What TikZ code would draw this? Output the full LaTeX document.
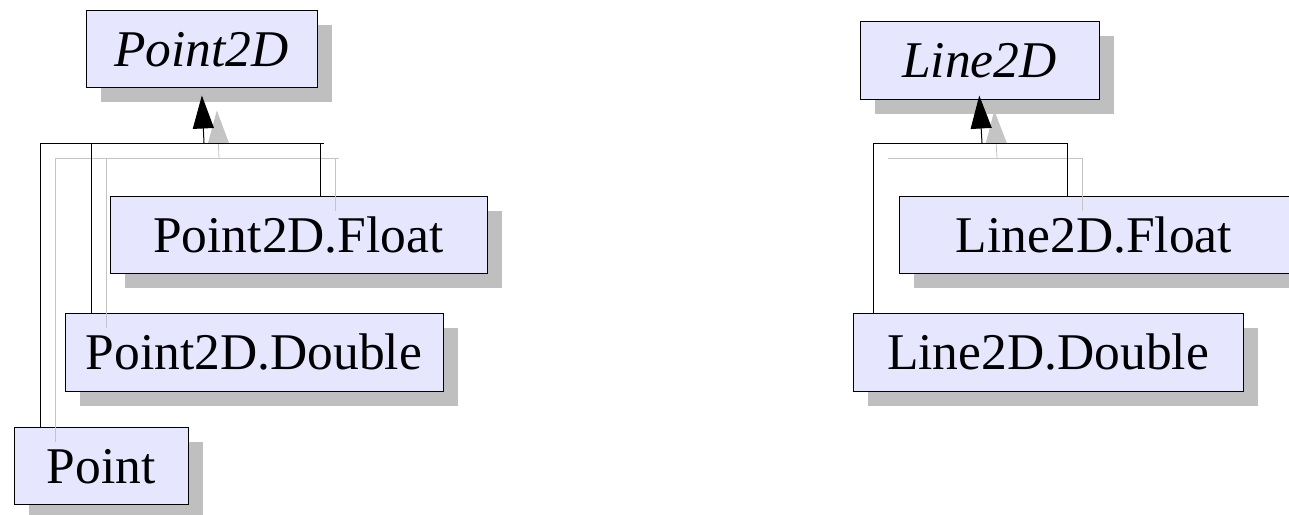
\documentclass[tikz,border=0pt]{standalone}
\usepackage{fontspec}
\setmainfont{Liberation Serif}
\usetikzlibrary{arrows.meta,shadows}
\definecolor{boxfill}{HTML}{E6E6FF}
\definecolor{shadowgray}{HTML}{BFBFBF}
\definecolor{lineshadow}{HTML}{C4C4C4}
\tikzset{
  cls/.style={draw=black, line width=1pt, fill=boxfill, inner sep=0pt,
    minimum height=77pt, text height=35pt, text depth=0pt,
    font=\fontsize{51.5}{60}\selectfont,
    drop shadow={shadow xshift=15pt, shadow yshift=-15pt, fill=shadowgray, opacity=1, draw=none}},
  conn/.style={draw=black, line width=1pt},
  gen/.style={conn, -{Triangle[width=21pt,length=33pt]}},
  sh/.style={transform canvas={xshift=15pt,yshift=-15pt}, draw=lineshadow, fill=lineshadow},
}
\begin{document}
\begin{tikzpicture}[x=1pt,y=-1pt]
\useasboundingbox (0,0) rectangle (1289,514);
% left hierarchy
\node[cls, minimum width=231pt] (p2d) at (201.5,48.5) {\textit{Point2D}};
\node[cls, minimum width=377pt] (pfl) at (298.5,234.5) {Point2D.Float};
\node[cls, minimum width=378pt, minimum height=78pt] (pdb) at (254,352) {Point2D.Double};
\node[cls, minimum width=174pt] (pt) at (101,465.5) {Point};
\coordinate (j1) at (204,143);
\coordinate (ja) at (40,143);
\coordinate (jb) at (91,143);
\coordinate (jc) at (320,143);
\coordinate (jd) at (324,143);
% right hierarchy
\node[cls, minimum width=239pt, minimum height=78pt] (l2d) at (979.5,60) {\textit{Line2D}};
\node[cls, minimum width=390pt] (lfl) at (1094,234.5) {Line2D.Float};
\node[cls, minimum width=390pt, minimum height=78pt] (ldb) at (1048,352) {Line2D.Double};
\coordinate (k1) at (982,143);
\coordinate (ka) at (873,143);
\coordinate (kc) at (1067,143);
\coordinate (kd) at (1068,143);
% connector shadows
\begin{scope}[sh]
  \draw[line width=0.8pt] (ja |- pt.north) -- (ja) -- (jd);
  \draw[line width=0.8pt] (jb |- pdb.north) -- (jb);
  \draw[line width=0.8pt] (jc |- pfl.north) -- (jc);
  \draw[line width=0.8pt, -{Triangle[width=21pt,length=33pt]}, shorten >=8pt] (j1) -- (p2d.south);
  \draw[line width=0.8pt] (ka) -- (kd);
  \draw[line width=0.8pt] (kc |- lfl.north) -- (kc);
  \draw[line width=0.8pt, -{Triangle[width=21pt,length=33pt]}, shorten >=-4pt] (k1) -- (l2d.south);
\end{scope}
% connectors
\draw[conn] (ja |- pt.north) -- (ja) -- (jd);
\draw[conn] (jb |- pdb.north) -- (jb);
\draw[conn] (jc |- pfl.north) -- (jc);
\draw[gen, shorten >=8pt] (j1) -- (p2d.south);
\draw[conn] (ka |- ldb.north) -- (ka) -- (kd);
\draw[conn] (kc |- lfl.north) -- (kc);
\draw[gen, shorten >=-4pt] (k1) -- (l2d.south);
\end{tikzpicture}
\end{document}
